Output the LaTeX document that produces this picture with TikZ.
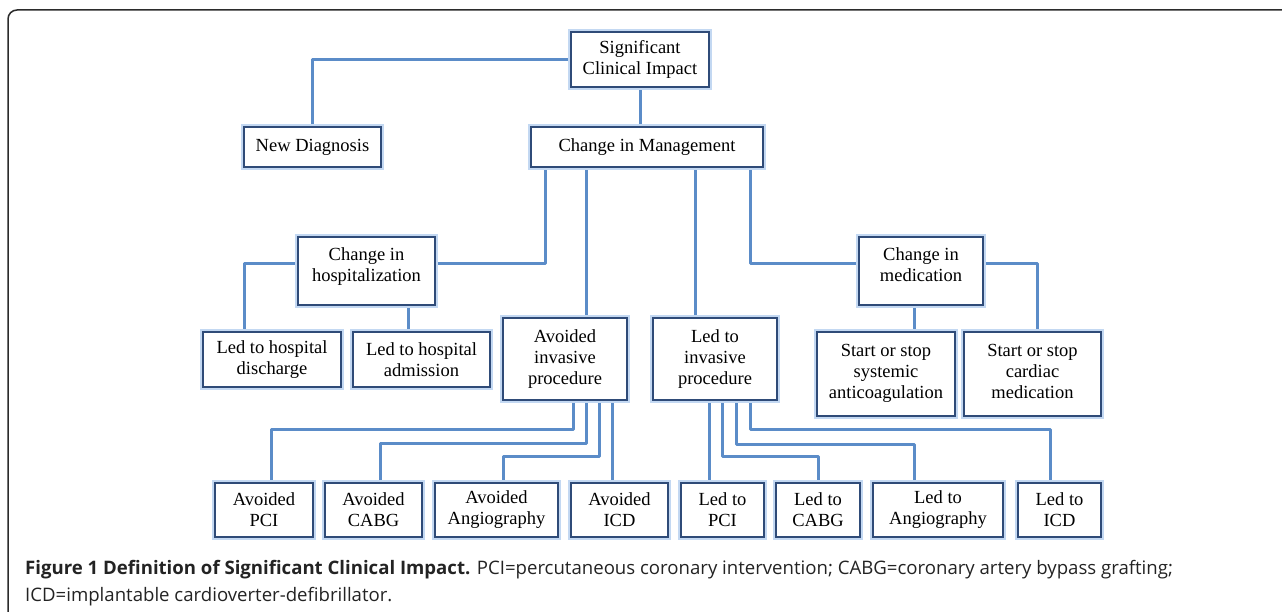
\documentclass[tikz,border=0pt]{standalone}
\usepackage{fontspec}
\setmainfont{Liberation Serif}
\newfontfamily\capfont{Open Sans}
\usetikzlibrary{calc}
\definecolor{boxc}{HTML}{2F4B78}
\definecolor{glowc}{HTML}{C3D8F2}
\definecolor{linec}{HTML}{5B8CC8}
\definecolor{framec}{HTML}{2B2B2B}
\definecolor{capc}{HTML}{232323}
\pgfdeclarelayer{bg}
\pgfsetlayers{bg,main}
\newcommand\lowpad[1]{\rule[-#1pt]{0pt}{#1pt}}
\begin{document}
\begin{tikzpicture}[x=1pt,y=-1pt,
  box/.style={draw=boxc, line width=2.4pt, fill=white,
    preaction={draw=glowc, line width=6.5pt},
    inner sep=0pt, align=center, text=black,
    font=\fontsize{18.5}{21}\selectfont},
  conn/.style={draw=linec, line width=3pt, line join=round},
  captext/.style={anchor=base west, inner sep=0pt, text=capc,
    font=\capfont\fontsize{18.6}{22}\selectfont}]
\useasboundingbox (0,0) rectangle (1282,612);
\draw[framec, line width=1.5pt, rounded corners=9pt] (8,640) -- (8,10) -- (1300,10);

% nodes
\node[box, minimum width=138, minimum height=55] (sci) at (640,59.5) {Significant\\Clinical Impact};
\node[box, minimum width=137, minimum height=40] (nd) at (312.5,147) {New Diagnosis};
\node[box, minimum width=232, minimum height=40] (cim) at (647,147) {Change in Management};
\node[box, minimum width=137, minimum height=68] (cih) at (366.5,271) {Change in\\hospitalization\lowpad{12}};
\node[box, minimum width=124, minimum height=68] (cmed) at (921,271) {Change in\\medication\lowpad{12}};
\node[box, minimum width=138, minimum height=55] (lhd) at (272,359.5) {Led to hospital\\discharge};
\node[box, minimum width=137, minimum height=55] (lha) at (421.5,359.5) {Led to hospital\\admission};
\node[box, minimum width=124, minimum height=82] (aip) at (565,359) {Avoided\\invasive\\procedure};
\node[box, minimum width=124, minimum height=82] (lip) at (715,359) {Led to\\invasive\\procedure};
\node[box, minimum width=138, minimum height=84] (ssa) at (886,374) {Start or stop\\systemic\\anticoagulation\lowpad{6}};
\node[box, minimum width=137, minimum height=84] (ssc) at (1032.5,374) {Start or stop\\cardiac\\medication\lowpad{6}};
\node[box, minimum width=98, minimum height=54] (apci) at (264,510) {Avoided\\PCI};
\node[box, minimum width=97, minimum height=54] (acabg) at (373.5,510) {Avoided\\CABG};
\node[box, minimum width=123, minimum height=54] (aang) at (496.5,510) {Avoided\\Angiography};
\node[box, minimum width=97, minimum height=54] (aicd) at (619.5,510) {Avoided\\ICD};
\node[box, minimum width=83, minimum height=54] (lpci) at (722.5,510) {Led to\\PCI};
\node[box, minimum width=84, minimum height=54] (lcabg) at (818,510) {Led to\\CABG};
\node[box, minimum width=130, minimum height=54] (lang) at (938,510) {Led to\\Angiography};
\node[box, minimum width=83, minimum height=54] (licd) at (1059.5,510) {Led to\\ICD};

% connectors
\begin{pgfonlayer}{bg}
\draw[conn] (sci.west) -| (nd.north);
\draw[conn] (sci.south) -- (sci.south |- cim.north);
\draw[conn] ([xshift=-102pt]cim.south) |- ([yshift=7pt]cih.east);
\draw[conn] ([xshift=-61pt]cim.south) -- ([xshift=21pt]aip.north);
\draw[conn] ([xshift=48pt]cim.south) -- ([xshift=-20pt]lip.north);
\draw[conn] ([xshift=103pt]cim.south) |- ([yshift=7pt]cmed.west);
\draw[conn] ([yshift=7pt]cih.west) -| ([xshift=-28pt]lhd.north);
\draw[conn] ([xshift=41.5pt]cih.south) -- ([xshift=-13.5pt]lha.north);
\draw[conn] ([yshift=7pt]cmed.east) -| ([xshift=4.5pt]ssc.north);
\draw[conn] ([xshift=-7pt]cmed.south) -- ([xshift=28pt]ssa.north);
\draw[conn] ([xshift=8pt]aip.south) -- ++(0,28) -| ([xshift=7pt]apci.north);
\draw[conn] ([xshift=21pt]aip.south) -- ++(0,42) -| ([xshift=6.5pt]acabg.north);
\draw[conn] ([xshift=34pt]aip.south) -- ++(0,55) -| ([xshift=6.5pt]aang.north);
\draw[conn] ([xshift=47pt]aip.south) -- ([xshift=-7.5pt]aicd.north);
\draw[conn] ([xshift=-6pt]lip.south) -- ([xshift=-13.5pt]lpci.north);
\draw[conn] ([xshift=7pt]lip.south) -- ++(0,55) -| (lcabg.north);
\draw[conn] ([xshift=21pt]lip.south) -- ++(0,43) -| ([xshift=-24pt]lang.north);
\draw[conn] ([xshift=35pt]lip.south) -- ++(0,28) -| ([xshift=-9.5pt]licd.north);
\end{pgfonlayer}

% caption
\node[captext] (cap1) at (25,574) {\textbf{Figure 1 Definition of Significant Clinical Impact.} PCI=percutaneous coronary intervention; CABG=coronary artery bypass grafting;};
\node[captext] (cap2) at (25,601.5) {ICD=implantable cardioverter-defibrillator.};
\end{tikzpicture}
\end{document}
